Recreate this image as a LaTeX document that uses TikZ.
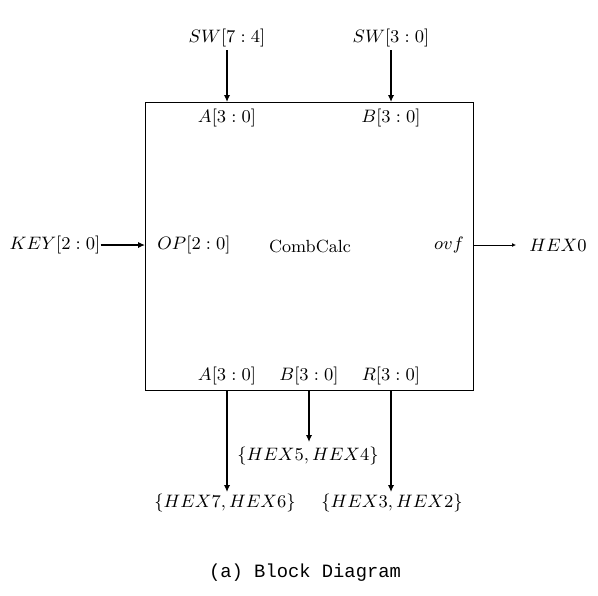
\documentclass[tikz,border=0pt]{standalone}
\usepackage{fontspec}
\newfontfamily\capfont{Liberation Mono}
\usetikzlibrary{arrows.meta}
\begin{document}
\begin{tikzpicture}[x=0.5pt,y=-0.5pt,
  lbl/.style={inner sep=0pt,anchor=center,font=\fontsize{9.4}{11}\selectfont},
  bus/.style={line width=1pt,-{Latex[length=3.5pt,width=3.2pt]}},
  wire/.style={line width=0.4pt,-{Latex[length=2pt,width=2pt]}}]
\useasboundingbox (0,0) rectangle (598,595);
\node[draw,line width=0.5pt,minimum width=164pt,minimum height=144pt,inner sep=0pt] (box) at (309,246) {};
% top inputs
\node[lbl] (sw74) at (227,38) {$SW[7:4]$};
\node[lbl] (sw30) at (391,38) {$SW[3:0]$};
\node[lbl] (ain) at (227,118) {$A[3:0]$};
\node[lbl] (bin) at (391,118) {$B[3:0]$};
\coordinate (ta) at (227,102);
\coordinate (tb) at (391,102);
\draw[bus] (227,50) -- (ta);
\draw[bus] (391,50) -- (tb);
% left
\node[lbl] (key) at (55,245) {$KEY[2:0]$};
\node[lbl] (op) at (194,245) {$OP[2:0]$};
\coordinate (lk) at (145,245);
\draw[bus] (key.east) -- (lk);
\node[lbl,font=\fontsize{8.8}{10}\selectfont] (cc) at (310,246) {CombCalc};
\node[lbl] (ovf) at (449,245) {$ovf$};
\coordinate (ro) at (473,245);
\coordinate (re) at (516,245);
\node[lbl] (hex0) at (558,245) {$HEX0$};
\draw[wire] (ro) -- (re);
% bottom
\node[lbl] (aout) at (227,376) {$A[3:0]$};
\node[lbl] (bout) at (309,376) {$B[3:0]$};
\node[lbl] (rout) at (391,376) {$R[3:0]$};
\node[lbl] (h54) at (308,456) {$\{HEX5,HEX4\}$};
\node[lbl] (h76) at (225,503) {$\{HEX7,HEX6\}$};
\node[lbl] (h32) at (392,503) {$\{HEX3,HEX2\}$};
\coordinate (ba) at (227,390);
\coordinate (bb) at (309,390);
\coordinate (br) at (391,390);
\draw[bus] (ba) -- (227,492);
\draw[bus] (bb) -- (309,442);
\draw[bus] (br) -- (391,492);
% caption
\node[lbl,font=\capfont\fontsize{9.4}{11}\selectfont] (cap) at (305,573) {(a) Block Diagram};
\end{tikzpicture}
\end{document}
